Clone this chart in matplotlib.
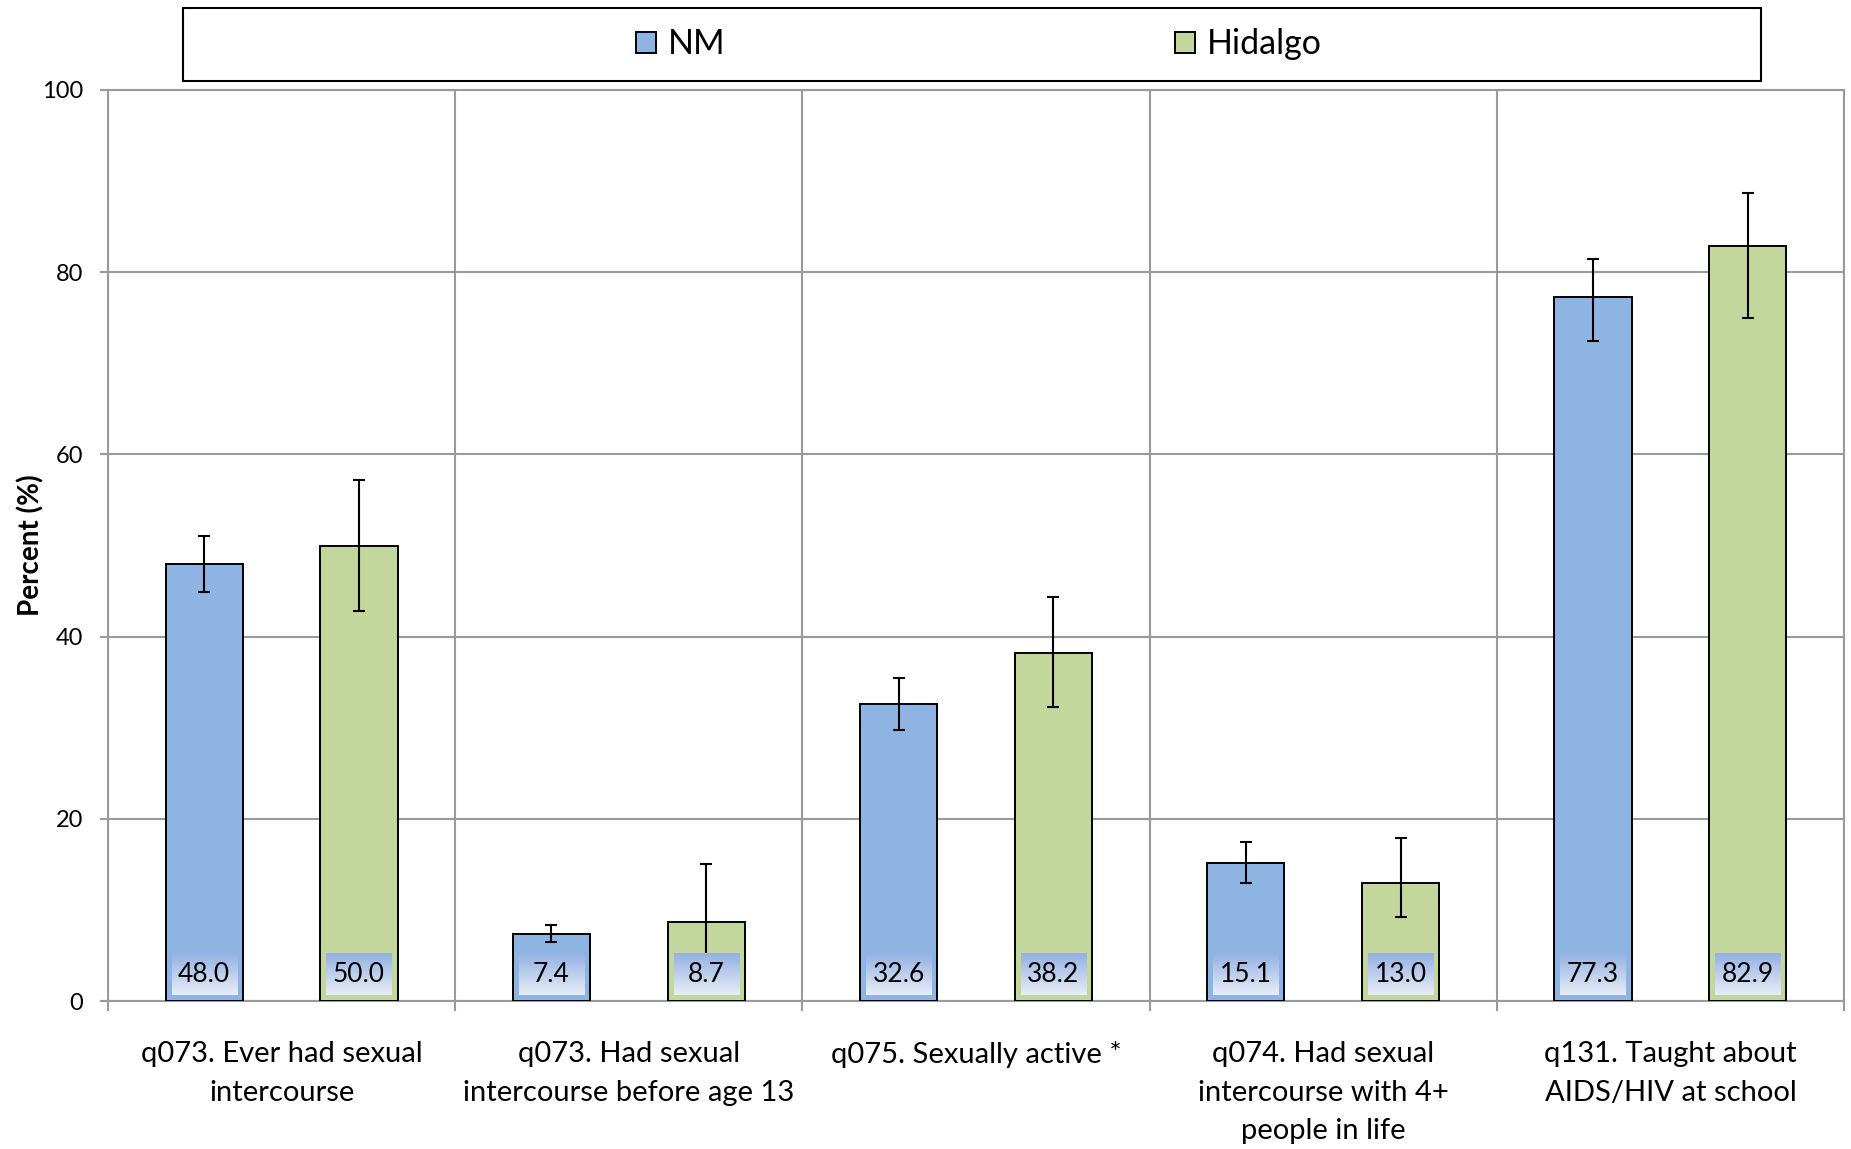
import numpy as np
import matplotlib
matplotlib.use("Agg")
import matplotlib.pyplot as plt
from matplotlib.patches import Rectangle

plt.rcParams['font.family'] = ['Lato', 'DejaVu Sans']

categories = ["q073. Ever had sexual\nintercourse",
              "q073. Had sexual\nintercourse before age 13",
              "q075. Sexually active *",
              "q074. Had sexual\nintercourse with 4+\npeople in life",
              "q131. Taught about\nAIDS/HIV at school"]
series_names = ["NM", "Hidalgo"]
nm = [48.0, 7.4, 32.6, 15.1, 77.3]
hid = [50.0, 8.7, 38.2, 13.0, 82.9]
nm_lo = [44.9, 6.5, 29.8, 13.0, 72.4]
nm_hi = [51.0, 8.3, 35.5, 17.5, 81.4]
hid_lo = [42.8, 4.9, 32.3, 9.2, 75.0]
hid_hi = [57.2, 15.0, 44.4, 17.9, 88.7]
yticks = [0, 20, 40, 60, 80, 100]

colors = ["#8EB4E3", "#C3D69B"]
grid_c = "#9A9A9A"

W, H = 1851, 1149
fig = plt.figure(figsize=(W / 100, H / 100), dpi=100)
ax = fig.add_axes([108 / W, 1 - 1001 / H, (1844 - 108) / W, (1001 - 90) / H])

x = np.arange(len(categories))
off = 0.223
bw = 0.222
series = [(nm, nm_lo, nm_hi), (hid, hid_lo, hid_hi)]
handles = []
for k, (vals, lo, hi) in enumerate(series):
    xs = x + (k * 2 - 1) * off
    b = ax.bar(xs, vals, width=bw, color=colors[k], edgecolor="black",
               linewidth=1.4, zorder=3, label=series_names[k])
    handles.append(b)
    v = np.array(vals)
    yerr = np.vstack([v - np.array(lo), np.array(hi) - v])
    ax.errorbar(xs, v, yerr=yerr, fmt="none", ecolor="black", elinewidth=1.5,
                capsize=4.5, capthick=1.5, zorder=4)
    grad = np.linspace(0, 1, 64).reshape(-1, 1)
    top = np.array(matplotlib.colors.to_rgb("#93B1E2"))
    bot = np.array(matplotlib.colors.to_rgb("#E8EDF7"))
    img = top[None, None, :] * (1 - grad[:, :, None]) + bot[None, None, :] * grad[:, :, None]
    for xi, vi in zip(xs, vals):
        ax.imshow(img, extent=(xi - 0.094, xi + 0.094, 0.65, 5.25),
                  aspect="auto", zorder=5, interpolation="bilinear")
        ax.text(xi, 2.95, f"{vi:.1f}", ha="center", va="center", fontsize=19,
                color="black", zorder=6)

ax.set_xlim(-0.5, len(categories) - 0.5)
ax.set_ylim(0, 100)
ax.set_yticks(yticks)
ax.set_yticklabels([str(t) for t in yticks])
ax.set_xticks(x)
ax.set_xticklabels(categories, fontsize=21, linespacing=1.6)
ax.set_xticks(np.arange(len(categories) + 1) - 0.5, minor=True)
ax.tick_params(axis="x", which="major", length=0, pad=29)
ax.tick_params(axis="x", which="minor", length=7, width=1.5, color=grid_c)
ax.tick_params(axis="y", which="major", length=6, width=1.5, color=grid_c,
               labelsize=17, pad=12)
ax.grid(axis="y", which="major", color=grid_c, linewidth=1.5, zorder=0)
ax.grid(axis="x", which="minor", color=grid_c, linewidth=1.5, zorder=0)
ax.set_axisbelow(True)
for s in ax.spines.values():
    s.set_color(grid_c)
    s.set_linewidth(1.5)

ax.set_ylabel("Percent (%)", fontsize=20, fontweight="bold", labelpad=-2)

fig.patches.append(Rectangle((183 / W, 1 - 81 / H), 1578 / W, 73 / H,
                             transform=fig.transFigure, fill=False,
                             edgecolor="black", linewidth=1.5))
fig.legend(handles=handles, labels=series_names, loc="center",
           bbox_to_anchor=(190 / W, 1 - 81 / H, 1578 / W, 73 / H),
           ncol=2, frameon=False, fontsize=24.5, handlelength=0.6,
           handleheight=0.6, handletextpad=0.35, columnspacing=13.2)

fig.savefig("out.png", dpi=100)
